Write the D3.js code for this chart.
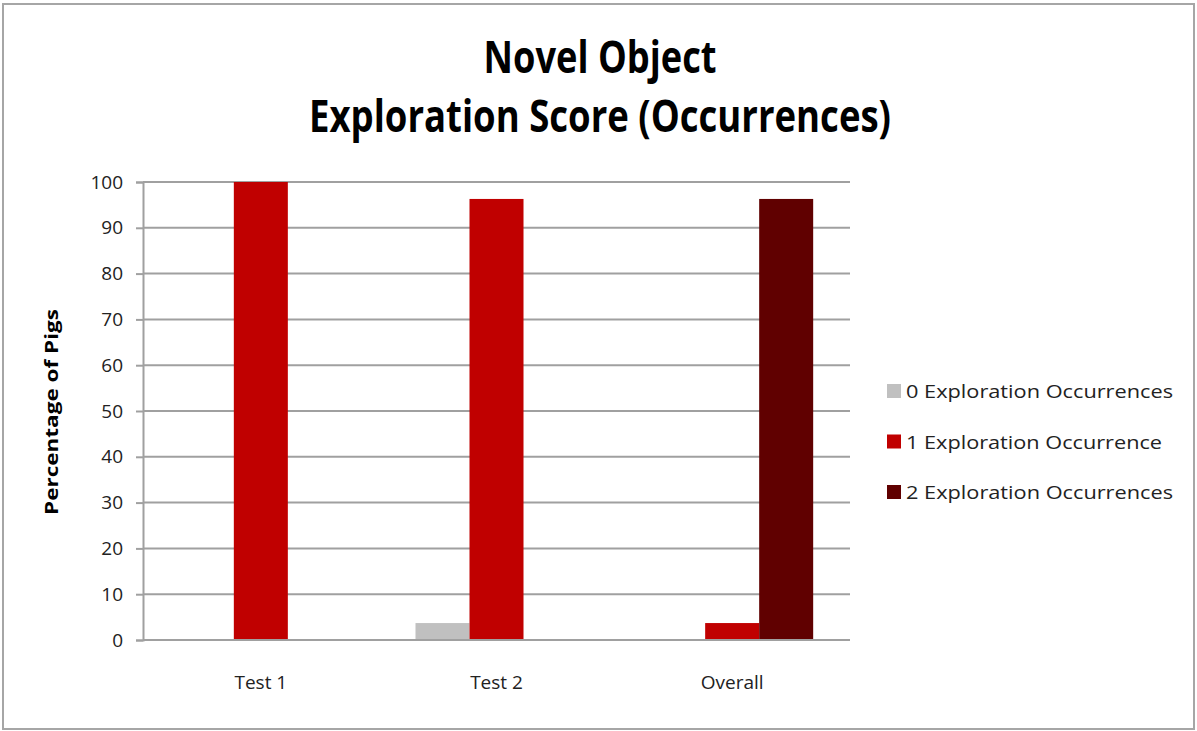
<!DOCTYPE html>
<html><head><meta charset="utf-8">
<script src="https://cdn.jsdelivr.net/npm/d3@7"></script>
<style>body{margin:0;background:#fff}svg{display:block}text{font-family:"Open Sans","Liberation Sans",sans-serif}</style>
</head><body>
<svg id="c" width="1197" height="731"></svg>
<script>
const categories = ["Test 1", "Test 2", "Overall"];
const seriesNames = ["0 Exploration Occurrences", "1 Exploration Occurrence", "2 Exploration Occurrences"];
const zeroOcc = [0, 3.7, 0];
const oneOcc = [100, 96.3, 3.7];
const twoOcc = [0, 0, 96.3];
const yTicks = [0, 10, 20, 30, 40, 50, 60, 70, 80, 90, 100];
const colors = ["#c0c0c0", "#c00000", "#600000"];
const titleLines = ["Novel Object", "Exploration Score (Occurrences)"];
const yLabel = "Percentage of Pigs";

const series = [zeroOcc, oneOcc, twoOcc];
const svg = d3.select("#c");
svg.append("rect").attr("x",3).attr("y",4).attr("width",1191).attr("height",725)
  .attr("fill","#fff").attr("stroke","#a6a6a6").attr("stroke-width",2);

const L=143, R=850, T=182, B=640;
const y = d3.scaleLinear().domain([0,100]).range([B,T]);
const x = d3.scaleBand().domain(categories).range([L,R]).paddingInner(0.3125).paddingOuter(0.15625);
const xs = d3.scaleBand().domain(d3.range(series.length)).range([0,x.bandwidth()]);

// gridlines
svg.append("g").selectAll("line").data(yTicks.filter(d=>d>0)).join("line")
  .attr("x1",L).attr("x2",R).attr("y1",d=>y(d)).attr("y2",d=>y(d))
  .attr("stroke","#a0a0a0").attr("stroke-width",2);

// y axis
const ya = svg.append("g").attr("transform",`translate(${L},0)`)
  .call(d3.axisLeft(y).tickValues(yTicks).tickSize(7).tickPadding(13));
ya.select(".domain").attr("stroke","#a0a0a0").attr("stroke-width",2);
ya.selectAll(".tick line").attr("stroke","#a0a0a0").attr("stroke-width",2);
ya.selectAll(".tick text").attr("font-size",19).attr("fill","#222").attr("font-family","'Open Sans',sans-serif");

// bars
svg.append("g").selectAll("g").data(series).join("g").attr("fill",(d,i)=>colors[i])
  .each(function(vals,si){
    d3.select(this).selectAll("rect").data(vals.map((v,ci)=>({v,ci}))).join("rect")
      .attr("x",d=>x(categories[d.ci])+xs(si)).attr("width",xs.bandwidth())
      .attr("y",d=>y(d.v)).attr("height",d=>B-y(d.v));
  });

// x axis baseline
const xa = svg.append("g").attr("transform",`translate(0,${B})`)
  .call(d3.axisBottom(x).tickSize(0).tickPadding(36));
xa.select(".domain").attr("stroke","#a0a0a0").attr("stroke-width",2).attr("d",`M${L},0H${R}`);
xa.selectAll(".tick text").attr("font-size",19).attr("fill","#222").attr("font-family","'Open Sans',sans-serif");

// title
svg.append("g").selectAll("text").data(titleLines).join("text")
  .attr("x",600).attr("y",(d,i)=>73+i*59).attr("text-anchor","middle")
  .attr("font-size",44).attr("font-weight","bold").attr("fill","#000")
  .attr("textLength",(d,i)=>i===0?233:582).attr("lengthAdjust","spacingAndGlyphs")
  .text(d=>d);

// y label
svg.append("text").attr("transform","translate(58,412) rotate(-90)").attr("text-anchor","middle")
  .attr("font-size",17).attr("font-weight","bold").attr("fill","#000")
  .attr("textLength",206).attr("lengthAdjust","spacingAndGlyphs").text(yLabel);

// legend
const lg = svg.append("g").selectAll("g").data(seriesNames).join("g")
  .attr("transform",(d,i)=>`translate(887,${391+i*50.5})`);
lg.append("rect").attr("x",0).attr("y",-7).attr("width",14).attr("height",14).attr("fill",(d,i)=>colors[i]);
lg.append("text").attr("x",19).attr("y",7).attr("font-size",19).attr("fill","#222")
  .attr("textLength",(d,i)=>i===1?256:267).attr("lengthAdjust","spacingAndGlyphs").text(d=>d);
</script>
</body></html>
